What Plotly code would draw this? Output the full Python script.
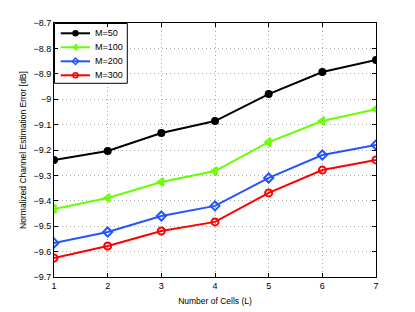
import plotly.graph_objects as go

cells = [1, 2, 3, 4, 5, 6, 7]
m50 = [-9.239, -9.204, -9.133, -9.086, -8.980, -8.893, -8.846]
m100 = [-9.432, -9.389, -9.326, -9.283, -9.169, -9.086, -9.039]
m200 = [-9.566, -9.523, -9.460, -9.420, -9.310, -9.220, -9.180]
m300 = [-9.625, -9.578, -9.519, -9.483, -9.369, -9.279, -9.239]
y_ticks = [-8.7, -8.8, -8.9, -9.0, -9.1, -9.2, -9.3, -9.4, -9.5, -9.6, -9.7]
y_labels = ["\u22128.7", "\u22128.8", "\u22128.9", "\u22129", "\u22129.1", "\u22129.2",
            "\u22129.3", "\u22129.4", "\u22129.5", "\u22129.6", "\u22129.7"]
series_names = ["M=50", "M=100", "M=200", "M=300"]

styles = [
    ("#000000", "circle", 6),
    ("#66FF00", "triangle-left-open", 7),
    ("#2255FF", "diamond-open", 7),
    ("#FF0000", "circle-open", 7),
]
series_vals = [m50, m100, m200, m300]

# plot area in pixels
L, R, T, B = 54, 376, 23, 277
W, H = 415, 312

fig = go.Figure()
for name, vals, (col, sym, sz) in zip(series_names, series_vals, styles):
    fig.add_trace(go.Scatter(
        x=cells, y=vals, name=name, mode="lines+markers", showlegend=False,
        line=dict(color=col, width=2),
        marker=dict(symbol=sym, size=sz, color=col, line=dict(color=col, width=2)),
        xaxis="x", yaxis="y",
    ))

# manual MATLAB-style legend on a pixel-coordinate overlay axis
bx0, bx1, by0, by1 = 54.5, 127.3, 23.5, 83.3
fig.add_trace(go.Scatter(
    x=[bx0, bx1, bx1, bx0, bx0], y=[by0, by0, by1, by1, by0], mode="lines",
    fill="toself", fillcolor="white", line=dict(color="black", width=1),
    showlegend=False, hoverinfo="skip", xaxis="x2", yaxis="y2",
))
leg_y0 = 33.3
leg_dy = 14.0
for i, (name, (col, sym, sz)) in enumerate(zip(series_names, styles)):
    yy = leg_y0 + i * leg_dy
    fig.add_trace(go.Scatter(
        x=[60.7, 90], y=[yy, yy], mode="lines", showlegend=False, hoverinfo="skip",
        line=dict(color=col, width=2), xaxis="x2", yaxis="y2",
    ))
    fig.add_trace(go.Scatter(
        x=[75.5], y=[yy], mode="markers", showlegend=False, hoverinfo="skip",
        marker=dict(symbol=sym, size=5, color=col, line=dict(color=col, width=1.5)),
        xaxis="x2", yaxis="y2",
    ))
    fig.add_annotation(x=93, y=yy, xref="x2", yref="y2", text=name, showarrow=False,
                       xanchor="left", yanchor="middle", font=dict(size=9, color="black"))

axis_common = dict(
    showline=True, linecolor="black", linewidth=1, mirror="ticks",
    ticks="inside", ticklen=4, tickcolor="black",
    showgrid=True, gridcolor="#a8a8a8", griddash="1px,3px", gridwidth=1,
    zeroline=False, tickfont=dict(size=9, color="black"), automargin=False,
)
fig.update_layout(
    xaxis=dict(range=[1, 7], tickvals=cells,
               title=dict(text="Number of Cells (L)", font=dict(size=8.5), standoff=8),
               **axis_common),
    yaxis=dict(range=[-9.7, -8.7], tickvals=y_ticks, ticktext=y_labels,
               title=dict(text="Normalized Channel Estimation Error [dB]", font=dict(size=8.5), standoff=5),
               **axis_common),
    xaxis2=dict(overlaying="x", range=[L, R], visible=False, fixedrange=True),
    yaxis2=dict(overlaying="y", range=[B, T], visible=False, fixedrange=True),
    width=W, height=H,
    margin=dict(l=L, r=W - R, t=T, b=H - B),
    paper_bgcolor="white", plot_bgcolor="white",
    font=dict(family="Liberation Sans, Arial, sans-serif", color="black"),
    showlegend=False,
)

fig.write_html("out.html", config={"displayModeBar": False},
               post_script="document.body.style.margin='0';")
